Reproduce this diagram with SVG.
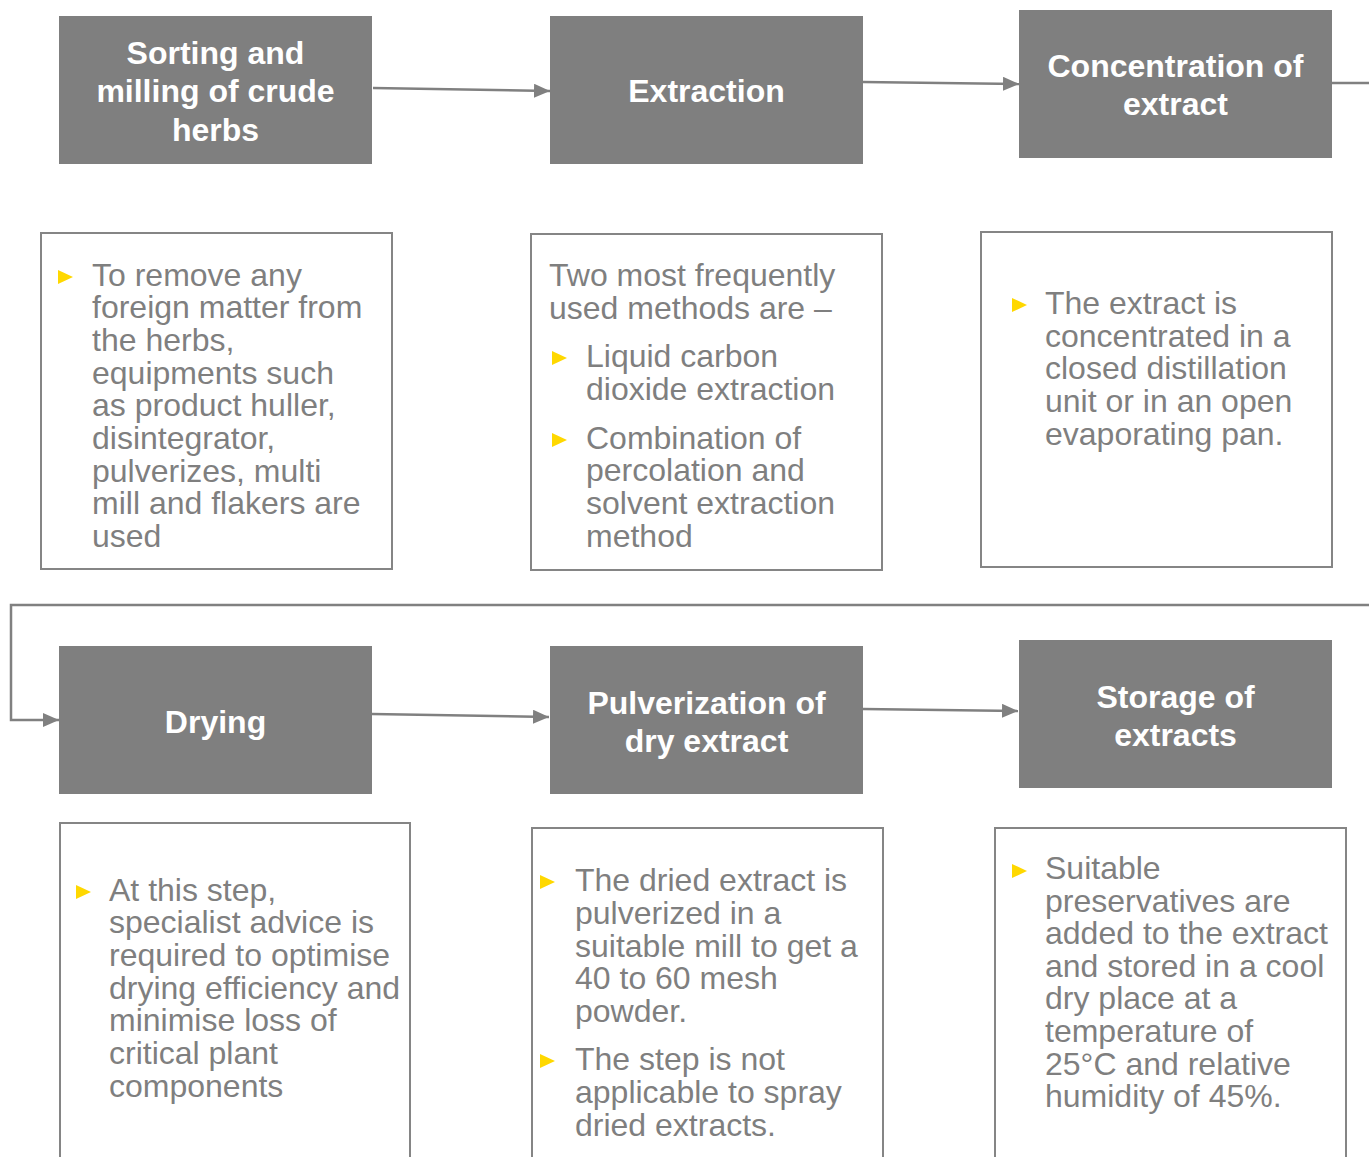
<svg xmlns="http://www.w3.org/2000/svg" width="1369" height="1157" viewBox="0 0 1369 1157">
<defs>
<style>
.hd{fill:#7f7f7f}
.ht{fill:#ffffff;font-family:"Liberation Sans",Arial,sans-serif;font-weight:bold;font-size:32px;text-anchor:middle}
.tb{fill:#ffffff;stroke:#858585;stroke-width:2}
.bt{fill:#7f7f7f;font-family:"Liberation Sans",Arial,sans-serif;font-size:32px}
.bl{fill:#ffd800}
.cn{fill:none;stroke:#808080;stroke-width:2.5}
</style>
<marker id="ah" markerUnits="userSpaceOnUse" markerWidth="16" markerHeight="14" refX="16" refY="7" orient="auto">
<path d="M0,0 L16,7 L0,14 z" fill="#808080"/>
</marker>
<path id="tri" d="M0,0 L15,7 L0,14 z"/>
</defs>
<rect width="1369" height="1157" fill="#ffffff"/>

<g id="connectors">
<path class="cn" d="M373,88 L550,91" marker-end="url(#ah)"/>
<path class="cn" d="M863,82 L1019,84" marker-end="url(#ah)"/>
<path class="cn" d="M1332,83 H1385 V605 H11 V720 H59" marker-end="url(#ah)"/>
<path class="cn" d="M372,714 L549,717" marker-end="url(#ah)"/>
<path class="cn" d="M863,709 L1018,711" marker-end="url(#ah)"/>
</g>

<g id="n-sorting">
<rect class="hd" x="59" y="16" width="313" height="148"/>
<text class="ht" x="215.5" y="64">Sorting and</text>
<text class="ht" x="215.5" y="102">milling of crude</text>
<text class="ht" x="215.5" y="141">herbs</text>
</g>
<g id="n-extraction">
<rect class="hd" x="550" y="16" width="313" height="148"/>
<text class="ht" x="706.5" y="102">Extraction</text>
</g>
<g id="n-concentration">
<rect class="hd" x="1019" y="10" width="313" height="148"/>
<text class="ht" x="1175.5" y="77">Concentration of</text>
<text class="ht" x="1175.5" y="115">extract</text>
</g>
<g id="n-drying">
<rect class="hd" x="59" y="646" width="313" height="148"/>
<text class="ht" x="215.5" y="733">Drying</text>
</g>
<g id="n-pulverization">
<rect class="hd" x="550" y="646" width="313" height="148"/>
<text class="ht" x="706.5" y="714">Pulverization of</text>
<text class="ht" x="706.5" y="752">dry extract</text>
</g>
<g id="n-storage">
<rect class="hd" x="1019" y="640" width="313" height="148"/>
<text class="ht" x="1175.5" y="708">Storage of</text>
<text class="ht" x="1175.5" y="746">extracts</text>
</g>

<g id="d-sorting">
<rect class="tb" x="41" y="233" width="351" height="336"/>
<use href="#tri" class="bl" x="58" y="270"/>
<text class="bt" x="92" y="286">To remove any</text>
<text class="bt" x="92" y="318">foreign matter from</text>
<text class="bt" x="92" y="351">the herbs,</text>
<text class="bt" x="92" y="384">equipments such</text>
<text class="bt" x="92" y="416">as product huller,</text>
<text class="bt" x="92" y="449">disintegrator,</text>
<text class="bt" x="92" y="482">pulverizes, multi</text>
<text class="bt" x="92" y="514">mill and flakers are</text>
<text class="bt" x="92" y="547">used</text>
</g>
<g id="d-extraction">
<rect class="tb" x="531" y="234" width="351" height="336"/>
<text class="bt" x="549" y="286">Two most frequently</text>
<text class="bt" x="549" y="319">used methods are –</text>
<use href="#tri" class="bl" x="552" y="351"/>
<text class="bt" x="586" y="367">Liquid carbon</text>
<text class="bt" x="586" y="400">dioxide extraction</text>
<use href="#tri" class="bl" x="552" y="433"/>
<text class="bt" x="586" y="449">Combination of</text>
<text class="bt" x="586" y="481">percolation and</text>
<text class="bt" x="586" y="514">solvent extraction</text>
<text class="bt" x="586" y="547">method</text>
</g>
<g id="d-concentration">
<rect class="tb" x="981" y="232" width="351" height="335"/>
<use href="#tri" class="bl" x="1012" y="298"/>
<text class="bt" x="1045" y="314">The extract is</text>
<text class="bt" x="1045" y="347">concentrated in a</text>
<text class="bt" x="1045" y="379">closed distillation</text>
<text class="bt" x="1045" y="412">unit or in an open</text>
<text class="bt" x="1045" y="445">evaporating pan.</text>
</g>
<g id="d-drying">
<rect class="tb" x="60" y="823" width="350" height="400"/>
<use href="#tri" class="bl" x="76" y="885"/>
<text class="bt" x="109" y="901">At this step,</text>
<text class="bt" x="109" y="933">specialist advice is</text>
<text class="bt" x="109" y="966">required to optimise</text>
<text class="bt" x="109" y="999">drying efficiency and</text>
<text class="bt" x="109" y="1031">minimise loss of</text>
<text class="bt" x="109" y="1064">critical plant</text>
<text class="bt" x="109" y="1097">components</text>
</g>
<g id="d-pulverization">
<rect class="tb" x="532" y="828" width="351" height="400"/>
<use href="#tri" class="bl" x="540" y="875"/>
<text class="bt" x="575" y="891">The dried extract is</text>
<text class="bt" x="575" y="924">pulverized in a</text>
<text class="bt" x="575" y="957">suitable mill to get a</text>
<text class="bt" x="575" y="989">40 to 60 mesh</text>
<text class="bt" x="575" y="1022">powder.</text>
<use href="#tri" class="bl" x="540" y="1054"/>
<text class="bt" x="575" y="1070">The step is not</text>
<text class="bt" x="575" y="1103">applicable to spray</text>
<text class="bt" x="575" y="1136">dried extracts.</text>
</g>
<g id="d-storage">
<rect class="tb" x="995" y="828" width="351" height="400"/>
<use href="#tri" class="bl" x="1012" y="864"/>
<text class="bt" x="1045" y="879">Suitable</text>
<text class="bt" x="1045" y="912">preservatives are</text>
<text class="bt" x="1045" y="944">added to the extract</text>
<text class="bt" x="1045" y="977">and stored in a cool</text>
<text class="bt" x="1045" y="1009">dry place at a</text>
<text class="bt" x="1045" y="1042">temperature of</text>
<text class="bt" x="1045" y="1075">25°C and relative</text>
<text class="bt" x="1045" y="1107">humidity of 45%.</text>
</g>
</svg>
